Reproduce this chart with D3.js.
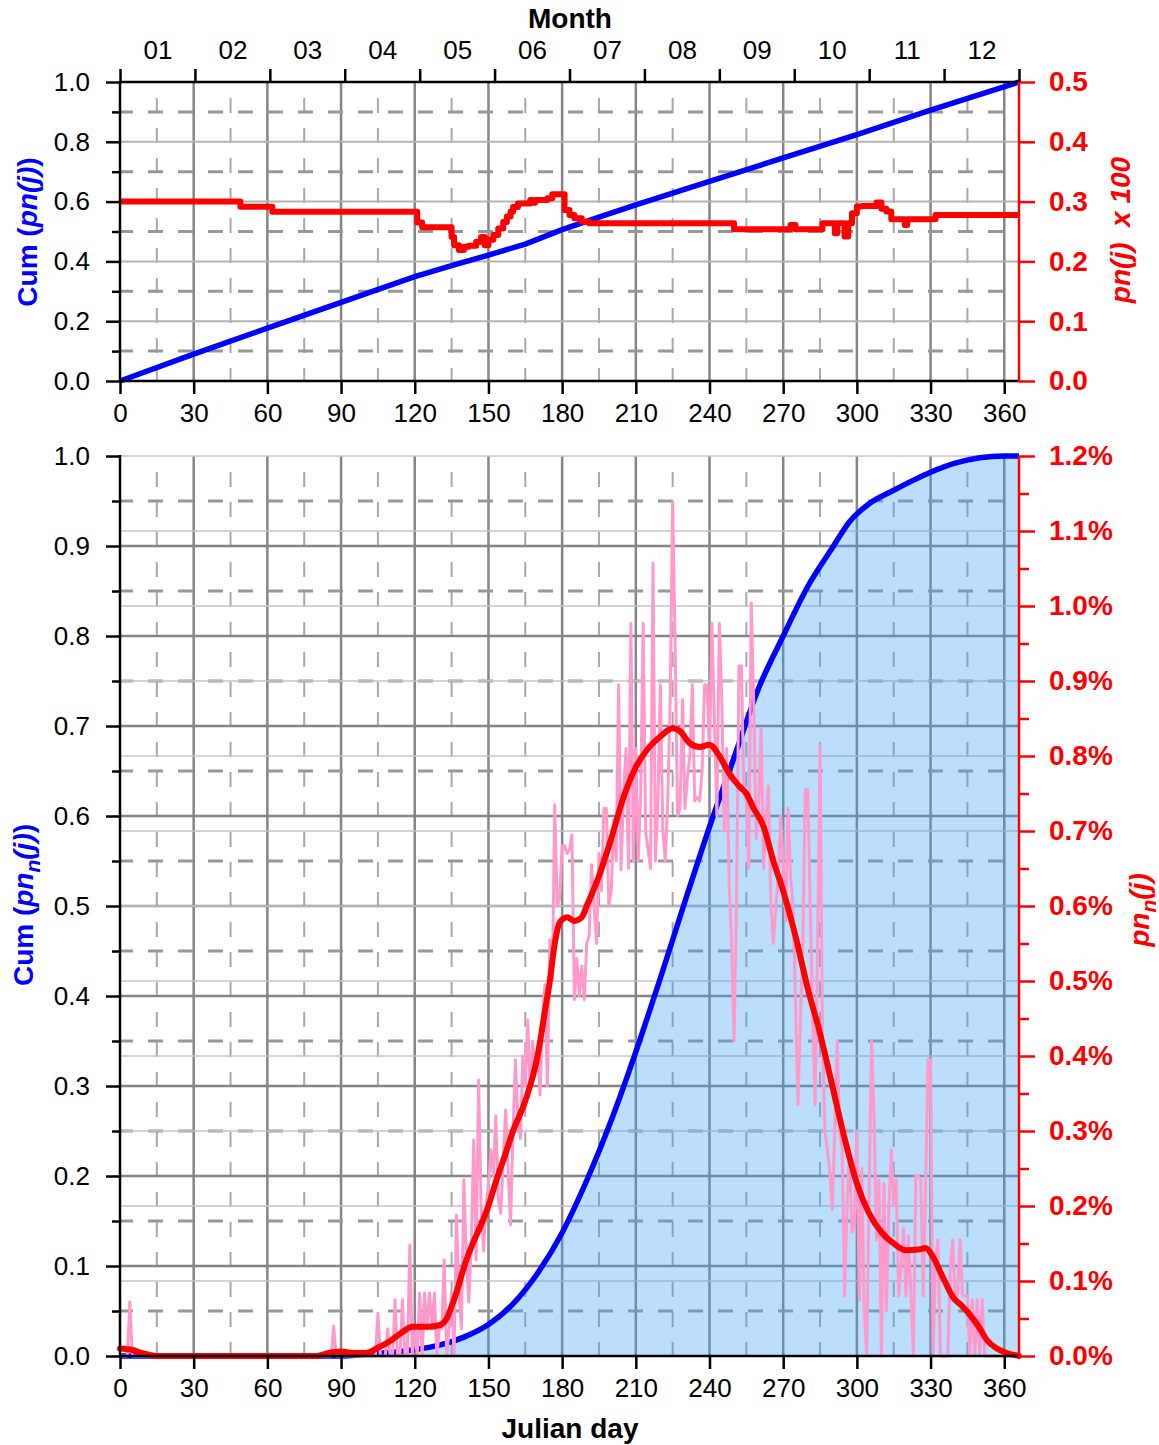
<!DOCTYPE html>
<html>
<head>
<meta charset="utf-8">
<script src="https://cdn.jsdelivr.net/npm/d3@7"></script>
<style>
body { margin: 0; background: #fff; }
text { font-family: "Liberation Sans", Arial, sans-serif; }
</style>
</head>
<body>
<script>
/////////////////////////////// data
const months = ["01", "02", "03", "04", "05", "06", "07", "08", "09", "10", "11", "12"];
const dayTicks = [0, 30, 60, 90, 120, 150, 180, 210, 240, 270, 300, 330, 360];
const dayMinor = [15, 45, 75, 105, 135, 165, 195, 225, 255, 285, 315, 345];

const topLeftTicks = [0, 0.2, 0.4, 0.6, 0.8, 1.0];
const topLeftMinor = [0.1, 0.3, 0.5, 0.7, 0.9];
const topRightTicks = [0, 0.1, 0.2, 0.3, 0.4, 0.5];
const botLeftTicks = [0, 0.1, 0.2, 0.3, 0.4, 0.5, 0.6, 0.7, 0.8, 0.9, 1.0];
const botLeftMinor = [0.05, 0.15, 0.25, 0.35, 0.45, 0.55, 0.65, 0.75, 0.85, 0.95];
const botRightTicks = [0, 0.1, 0.2, 0.3, 0.4, 0.5, 0.6, 0.7, 0.8, 0.9, 1.0, 1.1, 1.2];
const botRightMinor = [0.05, 0.15, 0.25, 0.35, 0.45, 0.55, 0.65, 0.75, 0.85, 0.95, 1.05, 1.15];

// top panel: cumulative pn(j) (blue)
const topCumDays = [0, 30, 60, 90, 120, 135, 150, 165, 180, 195, 210, 240, 270, 300, 330, 366];
const topCumVals = [0, 0.09, 0.177, 0.263, 0.349, 0.386, 0.421, 0.458, 0.506, 0.548, 0.589, 0.668, 0.746, 0.824, 0.906, 1.0];

// top panel: pn(j) x 100 (red, steps)
const topPnDays = [0, 49, 62, 121, 123, 135, 136, 138, 140, 142, 145, 147, 148.5, 150, 152, 154, 156, 157.5, 159, 160, 162, 167, 168, 169, 174, 176, 181, 183, 185, 188, 191, 250, 273, 275, 286, 291, 292, 295, 296.5, 298, 300, 302, 308, 310, 312, 314, 319.5, 320.5, 332, 366];
const topPnVals = [0.300, 0.2915, 0.283, 0.265, 0.257, 0.241, 0.227, 0.219, 0.2245, 0.226, 0.233, 0.241, 0.227, 0.236, 0.244, 0.255, 0.266, 0.275, 0.283, 0.291, 0.297, 0.3025, 0.298, 0.3025, 0.3055, 0.3125, 0.286, 0.2776, 0.272, 0.2664, 0.2637, 0.2539, 0.261, 0.2539, 0.2639, 0.247, 0.2639, 0.2417, 0.2639, 0.2806, 0.2917, 0.2928, 0.2983, 0.288, 0.2833, 0.2706, 0.261, 0.2706, 0.2778, 0.2778];

// bottom panel: cumulative pn_n(j) (blue)
const botCumDays = [0, 90, 100, 110, 120, 130, 140, 150, 160, 170, 180, 190, 200, 210, 220, 230, 240, 250, 260, 270, 280, 290, 297, 305, 315, 330, 340, 350, 360, 366];
const botCumVals = [0, 0, 0.002, 0.004, 0.007, 0.012, 0.021, 0.035, 0.058, 0.092, 0.137, 0.195, 0.262, 0.338, 0.42, 0.505, 0.588, 0.665, 0.742, 0.80, 0.855, 0.898, 0.927, 0.947, 0.962, 0.982, 0.992, 0.998, 1.0, 1.0];

// bottom panel: smoothed pn_n(j) in % (red)
const botSmoothDays = [0, 5, 10, 15, 80, 85, 90, 95, 100, 105, 110, 115, 119, 125, 130, 133, 135, 137.5, 140, 143, 147, 150, 153, 157, 160, 165, 170, 173, 175, 177, 179, 182, 185, 188, 190, 195, 200, 205, 210, 215, 220, 225, 228, 232, 236, 240, 244, 248, 252, 255, 258, 262, 266, 270, 275, 280, 285, 290, 295, 300, 305, 310, 315, 320, 325, 328, 331, 335, 339, 343, 346, 350, 353, 357, 361, 366];
const botSmoothVals = [0.01, 0.008, 0.003, 0, 0, 0.004, 0.006, 0.004, 0.004, 0.011, 0.02, 0.032, 0.039, 0.039, 0.041, 0.05, 0.066, 0.09, 0.118, 0.145, 0.175, 0.2, 0.232, 0.27, 0.30, 0.34, 0.40, 0.46, 0.50, 0.55, 0.578, 0.585, 0.58, 0.585, 0.60, 0.64, 0.69, 0.745, 0.785, 0.81, 0.826, 0.837, 0.833, 0.817, 0.812, 0.815, 0.80, 0.777, 0.76, 0.75, 0.73, 0.706, 0.66, 0.62, 0.56, 0.49, 0.43, 0.36, 0.29, 0.23, 0.19, 0.165, 0.15, 0.141, 0.142, 0.144, 0.132, 0.105, 0.079, 0.066, 0.055, 0.037, 0.021, 0.01, 0.004, 0];

// bottom panel: daily pn_n(j) in % (pink), index = Julian day
const botDaily = [
  0, 0, 0, 0, 0.072, 0, 0, 0, 0, 0,
  0, 0, 0, 0, 0, 0, 0, 0, 0, 0,
  0, 0, 0, 0, 0, 0, 0, 0, 0, 0,
  0, 0, 0, 0, 0, 0, 0, 0, 0, 0,
  0, 0, 0, 0, 0, 0, 0, 0, 0, 0,
  0, 0, 0, 0, 0, 0, 0, 0, 0, 0,
  0, 0, 0, 0, 0, 0, 0, 0, 0, 0,
  0, 0, 0, 0, 0, 0, 0, 0, 0, 0,
  0, 0, 0, 0, 0, 0, 0, 0.04, 0, 0,
  0, 0, 0, 0, 0, 0, 0, 0, 0, 0,
  0, 0, 0, 0, 0, 0.057, 0, 0, 0, 0.036,
  0, 0, 0.075, 0, 0, 0.075, 0, 0, 0.148, 0,
  0.036, 0, 0.084, 0, 0.084, 0.036, 0.084, 0.036, 0.084, 0,
  0.036, 0.036, 0.128, 0, 0.036, 0.084, 0, 0.188, 0.084, 0.036,
  0.235, 0.128, 0.072, 0.15, 0.288, 0.128, 0.368, 0.2, 0.14, 0.2,
  0.228, 0.275, 0.24, 0.32, 0.21, 0.19, 0.26, 0.328, 0.248, 0.175,
  0.30, 0.395, 0.315, 0.29, 0.40, 0.36, 0.448, 0.355, 0.42, 0.38,
  0.41, 0.348, 0.45, 0.495, 0.36, 0.555, 0.5, 0.735, 0.6, 0.61,
  0.68, 0.68, 0.67, 0.675, 0.695, 0.475, 0.53, 0.48, 0.52, 0.475,
  0.55, 0.56, 0.655, 0.6, 0.55, 0.67, 0.62, 0.73, 0.73, 0.6,
  0.62, 0.715, 0.66, 0.895, 0.648, 0.75, 0.81, 0.65, 0.977, 0.66,
  0.81, 0.66, 0.75, 0.977, 0.7, 0.675, 0.65, 1.057, 0.66, 0.74,
  0.895, 0.7, 0.66, 0.74, 0.875, 1.139, 0.95, 0.72, 0.73, 0.875,
  0.73, 0.77, 0.8, 0.895, 0.74, 0.745, 0.74, 0.78, 0.895, 0.895,
  0.80, 0.977, 0.85, 0.72, 0.977, 0.875, 0.70, 0.81, 0.63, 0.55,
  0.42, 0.61, 0.92, 0.92, 0.75, 0.74, 0.65, 1.004, 0.87, 0.69,
  0.74, 0.837, 0.65, 0.72, 0.76, 0.6, 0.55, 0.6, 0.64, 0.72,
  0.66, 0.58, 0.73, 0.64, 0.6, 0.475, 0.335, 0.45, 0.55, 0.755,
  0.755, 0.6, 0.45, 0.335, 0.55, 0.815, 0.42, 0.3, 0.275, 0.245,
  0.195, 0.3, 0.42, 0.3, 0.275, 0.08, 0.2, 0.275, 0.165, 0.175,
  0.3, 0.075, 0.25, 0.06, 0, 0.22, 0.42, 0.315, 0.155, 0.235,
  0, 0.23, 0.06, 0.195, 0.275, 0.2, 0.235, 0.08, 0.12, 0.17,
  0.08, 0.16, 0.08, 0, 0.24, 0.24, 0.235, 0.08, 0.235, 0.395,
  0.395, 0, 0.128, 0.155, 0, 0, 0, 0, 0.115, 0.155,
  0.08, 0.08, 0.155, 0.08, 0.08, 0.08, 0, 0.075, 0, 0.075,
  0, 0.075, 0, 0, 0, 0, 0, 0, 0, 0,
  0, 0, 0, 0, 0, 0
];

/////////////////////////////// sizes and scales
const W = 1159, H = 1445;
const svg = d3.select("body").append("svg").attr("width", W).attr("height", H);

const x = d3.scaleLinear().domain([0, 366]).range([120, 1019]);
const yTop = d3.scaleLinear().domain([0, 1]).range([381, 82]);
const yTopR = d3.scaleLinear().domain([0, 0.5]).range([381, 82]);
const yBot = d3.scaleLinear().domain([0, 1]).range([1356, 456]);
const yBotR = d3.scaleLinear().domain([0, 1.2]).range([1356, 456]);

const DARK = "#858585", DASH = "#979797", LIGHT = "#c4c4c4";

/////////////////////////////// grid helpers
function hLines(g, vals, y, color, w, dash) {
  g.selectAll(null).data(vals).join("line")
    .attr("x1", 120).attr("x2", 1019)
    .attr("y1", d => y(d)).attr("y2", d => y(d))
    .attr("stroke", color).attr("stroke-width", w)
    .attr("stroke-dasharray", dash ? "15,15" : null)
    .attr("stroke-dashoffset", dash ? 2 : null);
}
function vLines(g, y0, y1) {
  g.selectAll(null).data(dayTicks.slice(1)).join("line")
    .attr("x1", d => x(d)).attr("x2", d => x(d))
    .attr("y1", y0).attr("y2", y1)
    .attr("stroke", DARK).attr("stroke-width", 2.5);
  g.selectAll(null).data(dayMinor).join("line")
    .attr("x1", d => x(d)).attr("x2", d => x(d))
    .attr("y1", y0 + 1).attr("y2", y1)
    .attr("stroke", "#a8a8a8").attr("stroke-width", 2)
    .attr("stroke-dasharray", "15,15").attr("stroke-dashoffset", 15);
}

/////////////////////////////// top panel
const gTop = svg.append("g");
vLines(gTop, 82, 381);
hLines(gTop, topLeftMinor, yTop, DASH, 3, true);
hLines(gTop, topRightTicks.slice(1, 5), yTopR, "#b3b3b3", 2, false);

gTop.append("path")
  .datum(topCumDays.map((d, i) => [d, topCumVals[i]]))
  .attr("fill", "none").attr("stroke", "#0000ff").attr("stroke-width", 5.5)
  .attr("d", d3.line().x(d => x(d[0])).y(d => yTop(d[1])));

gTop.append("path")
  .datum(topPnDays.map((d, i) => [d, topPnVals[i]]))
  .attr("fill", "none").attr("stroke", "#ff0000").attr("stroke-width", 6)
  .attr("stroke-linejoin", "round")
  .attr("d", d3.line().curve(d3.curveStepAfter).x(d => x(d[0])).y(d => yTopR(d[1])));

/////////////////////////////// bottom panel
const gBot = svg.append("g");
vLines(gBot, 456, 1356);
hLines(gBot, botLeftMinor, yBot, DASH, 3, true);
hLines(gBot, botLeftTicks.slice(1, 10), yBot, DARK, 2.5, false);
hLines(gBot, botRightTicks.slice(1), yBotR, LIGHT, 1.5, false);

const cumPts = botCumDays.map((d, i) => [d, botCumVals[i]]);
gBot.append("path")
  .datum(cumPts)
  .attr("fill", "rgba(60,160,245,0.35)")
  .attr("d", d3.area().curve(d3.curveMonotoneX).x(d => x(d[0])).y0(yBot(0)).y1(d => yBot(d[1])));

gBot.append("path")
  .datum(cumPts)
  .attr("fill", "none").attr("stroke", "#0000ff").attr("stroke-width", 5.5)
  .attr("d", d3.line().curve(d3.curveMonotoneX).x(d => x(d[0])).y(d => yBot(d[1])));

gBot.append("path")
  .datum(botDaily)
  .attr("fill", "none").attr("stroke", "#ff99cc").attr("stroke-width", 3)
  .attr("stroke-linejoin", "round")
  .attr("d", d3.line().x((d, i) => x(i)).y(d => yBotR(d)));

gBot.append("path")
  .datum(botSmoothDays.map((d, i) => [d, botSmoothVals[i]]))
  .attr("fill", "none").attr("stroke", "#ff0000").attr("stroke-width", 6)
  .attr("stroke-linecap", "round")
  .attr("d", d3.line().curve(d3.curveMonotoneX).x(d => x(d[0])).y(d => yBotR(d[1])));

/////////////////////////////// axes
function styleAxis(sel, color, size, weight) {
  sel.select(".domain").remove();
  sel.selectAll(".tick line").attr("stroke", color).attr("stroke-width", 2.5);
  sel.selectAll(".tick text").attr("fill", color)
    .style("font-size", size + "px").style("font-weight", weight)
    .style("font-family", "'Liberation Sans', Arial, sans-serif");
}
function axisLine(x1, y1, x2, y2, color) {
  svg.append("line").attr("x1", x1).attr("y1", y1).attr("x2", x2).attr("y2", y2)
    .attr("stroke", color).attr("stroke-width", 2.5);
}

// top panel left
svg.append("g").attr("transform", "translate(120,0)")
  .call(d3.axisLeft(yTop).tickValues(topLeftMinor).tickSize(8).tickFormat(""))
  .call(s => styleAxis(s, "#000", 26, "normal"));
svg.append("g").attr("transform", "translate(120,0)")
  .call(d3.axisLeft(yTop).tickValues(topLeftTicks).tickSize(14).tickPadding(16).tickFormat(d3.format(".1f")))
  .call(s => styleAxis(s, "#000", 26, "normal"));
// top panel right
svg.append("g").attr("transform", "translate(1019,0)")
  .call(d3.axisRight(yTopR).tickValues(topRightTicks).tickSize(16).tickPadding(14).tickFormat(d3.format(".1f")))
  .call(s => styleAxis(s, "#ff0000", 28, "bold"));
// top panel bottom
svg.append("g").attr("transform", "translate(0,381)")
  .call(d3.axisBottom(x).tickValues(dayTicks).tickSize(13).tickPadding(10))
  .call(s => styleAxis(s, "#000", 26, "normal"));
// month axis on top
const monthEdges = months.map((m, i) => i * 30.5).concat([366]);
svg.append("g").attr("transform", "translate(0,82)")
  .call(d3.axisTop(x).tickValues(monthEdges).tickSize(13).tickFormat(""))
  .call(s => styleAxis(s, "#000", 26, "normal"));
svg.append("g").attr("transform", "translate(0,82)")
  .call(d3.axisTop(x).tickValues(months.map((m, i) => i * 30.5 + 15.25)).tickSize(0).tickPadding(23)
    .tickFormat((d, i) => months[i]))
  .call(s => styleAxis(s, "#000", 26, "normal"));

axisLine(120, 82, 1019, 82, "#000");
axisLine(120, 381, 1019, 381, "#000");
axisLine(120, 81, 120, 382, "#000");
axisLine(1019, 82, 1019, 382, "#ff0000");

// bottom panel left
svg.append("g").attr("transform", "translate(120,0)")
  .call(d3.axisLeft(yBot).tickValues(botLeftMinor).tickSize(8).tickFormat(""))
  .call(s => styleAxis(s, "#000", 26, "normal"));
svg.append("g").attr("transform", "translate(120,0)")
  .call(d3.axisLeft(yBot).tickValues(botLeftTicks).tickSize(14).tickPadding(16).tickFormat(d3.format(".1f")))
  .call(s => styleAxis(s, "#000", 26, "normal"));
// bottom panel right
svg.append("g").attr("transform", "translate(1019,0)")
  .call(d3.axisRight(yBotR).tickValues(botRightMinor).tickSize(10).tickFormat(""))
  .call(s => styleAxis(s, "#ff0000", 28, "bold"));
svg.append("g").attr("transform", "translate(1019,0)")
  .call(d3.axisRight(yBotR).tickValues(botRightTicks).tickSize(16).tickPadding(14)
    .tickFormat(d => d3.format(".1f")(d) + "%"))
  .call(s => styleAxis(s, "#ff0000", 28, "bold"));
// bottom panel bottom
svg.append("g").attr("transform", "translate(0,1356)")
  .call(d3.axisBottom(x).tickValues(dayTicks).tickSize(13).tickPadding(10))
  .call(s => styleAxis(s, "#000", 26, "normal"));

axisLine(120, 1356, 1019, 1356, "#000");
axisLine(120, 455, 120, 1357, "#000");
axisLine(1019, 456, 1019, 1357, "#ff0000");

/////////////////////////////// titles
svg.append("text").attr("x", 570).attr("y", 28).attr("text-anchor", "middle")
  .style("font-size", "28px").style("font-weight", "bold").text("Month");
svg.append("text").attr("x", 570).attr("y", 1438).attr("text-anchor", "middle")
  .style("font-size", "28px").style("font-weight", "bold").text("Julian day");

function rotLabel(tx, ty, color, parts) {
  const t = svg.append("text")
    .attr("transform", "translate(" + tx + "," + ty + ") rotate(-90)")
    .attr("text-anchor", "middle").attr("fill", color)
    .style("font-size", "28px").style("font-weight", "bold")
    .style("white-space", "pre");
  parts.forEach(p => {
    const s = t.append("tspan").text(p.t);
    if (p.i) s.style("font-style", "italic");
    if (p.sub) s.attr("dy", 7).style("font-size", "21px");
    if (p.up) s.attr("dy", -7);
  });
}
rotLabel(37, 232, "#0000ff", [{ t: "Cum (" }, { t: "pn(j)", i: true }, { t: ")" }]);
rotLabel(33, 905, "#0000ff", [{ t: "Cum (" }, { t: "pn", i: true }, { t: "n", i: true, sub: true }, { t: "(j)", i: true, up: true }, { t: ")" }]);
rotLabel(1130, 230, "#ff0000", [{ t: "pn(j)  x 100", i: true }]);
rotLabel(1149, 910, "#ff0000", [{ t: "pn", i: true }, { t: "n", i: true, sub: true }, { t: "(j)", i: true, up: true }]);
</script>
</body>
</html>
